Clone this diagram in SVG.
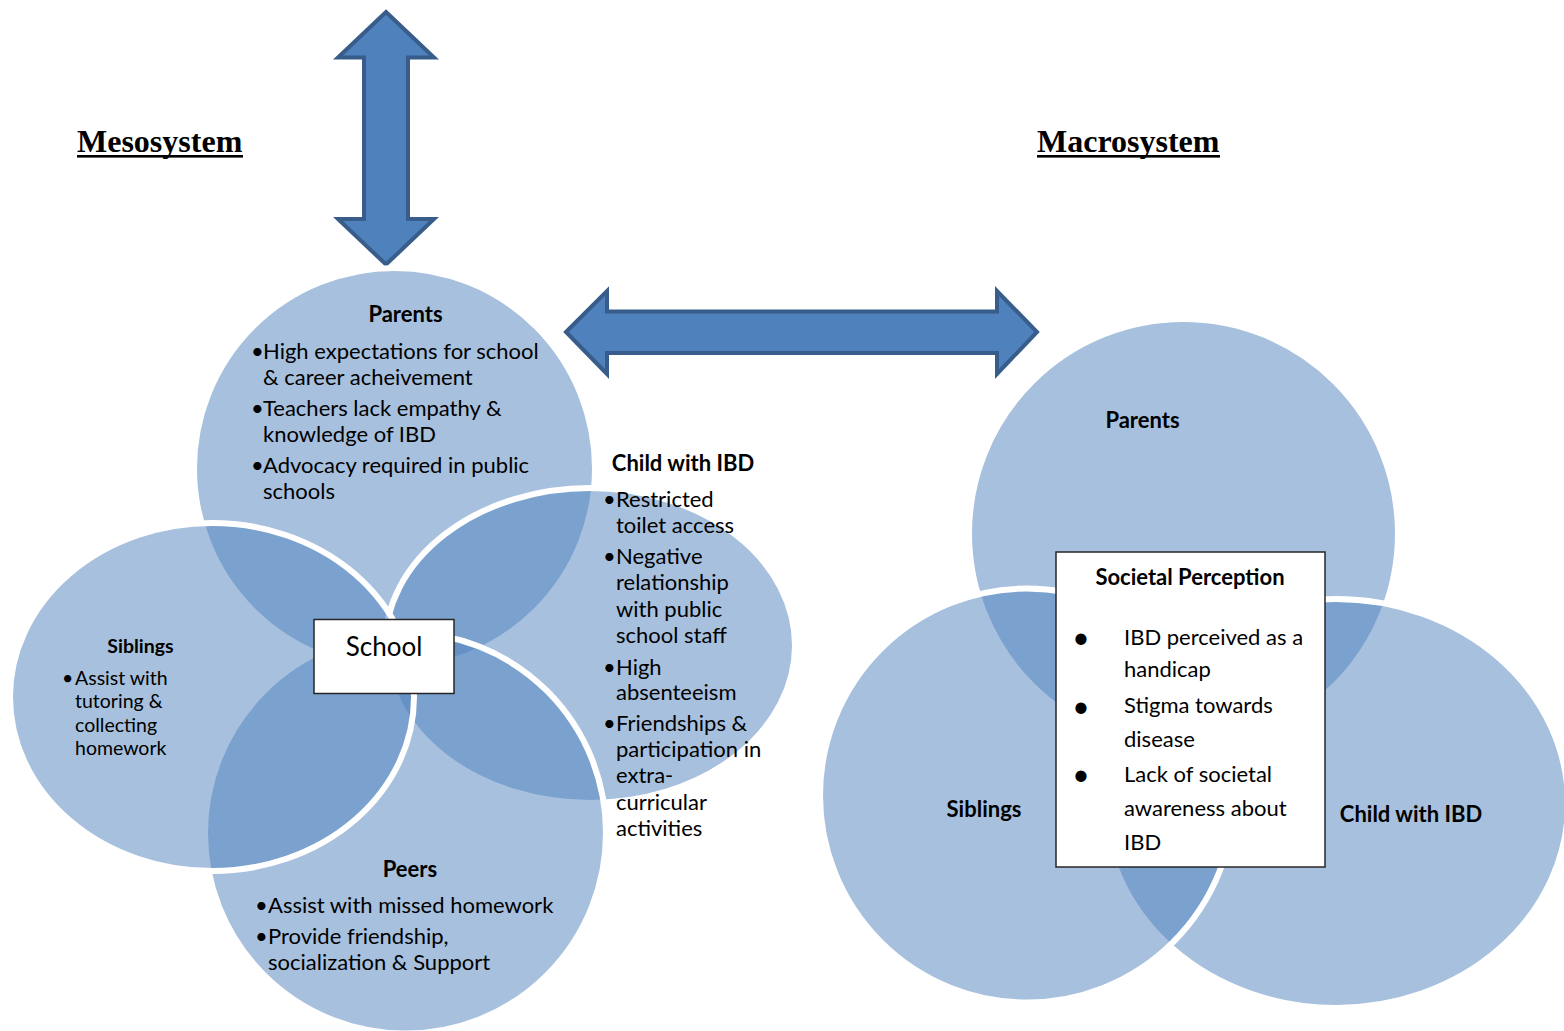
<svg xmlns="http://www.w3.org/2000/svg" width="1564" height="1031" viewBox="0 0 1564 1031">
<style>
.c{fill:#4F81BD;fill-opacity:0.5;stroke:#FFFFFF;stroke-width:6}
.arr{fill:#4F81BD;stroke:#385D8A;stroke-width:4}
.box{fill:#FFFFFF;stroke:#262626;stroke-width:1.5}
.h{font-family:"Liberation Serif","Times New Roman",serif;font-weight:bold;font-size:32px;fill:#000}
.t{font-family:Lato,"Liberation Sans",sans-serif;font-size:22px;fill:#000}
.s{font-family:Lato,"Liberation Sans",sans-serif;font-size:19.5px;fill:#000}
.b{font-family:Lato,"Liberation Sans",sans-serif;font-size:22px;font-weight:bold;fill:#000}
.bs{font-family:Lato,"Liberation Sans",sans-serif;font-size:19.5px;font-weight:bold;fill:#000}
.m{text-anchor:middle}
.sch{font-family:Lato,"Liberation Sans",sans-serif;font-size:26px;fill:#000}
.bl{font-family:Lato,"Liberation Sans",sans-serif;font-size:30px;fill:#000;text-anchor:middle}
</style>

<g id="heading-mesosystem">
<text class="h" x="77" y="152">Mesosystem</text>
<rect x="77" y="155" width="166" height="2.6" fill="#000"/>
</g>
<g id="heading-macrosystem">
<text class="h" x="1037" y="152">Macrosystem</text>
<rect x="1037" y="155" width="183" height="2.6" fill="#000"/>
</g>

<g id="connectors">
<path id="arrow-vertical" class="arr" d="M386,12 L434,57.5 L408,57.5 L408,219 L434,219 L386,264.5 L338,219 L364,219 L364,57.5 L338,57.5 Z"/>
<path id="arrow-horizontal" class="arr" d="M566,332 L607,291 L607,311.5 L997,311.5 L997,291 L1037,332 L997,374 L997,353 L607,353 L607,374 Z"/>
</g>

<g id="meso-venn">
<g id="meso-parents">
<circle class="c" cx="394.5" cy="468.5" r="200.5"/>
</g>
<g id="meso-child">
<ellipse class="c" cx="590" cy="645.5" rx="205" ry="157.5"/>
</g>
<g id="meso-peers">
<circle class="c" cx="405.5" cy="833" r="200.5"/>
</g>
<g id="meso-siblings">
<ellipse class="c" cx="212" cy="697" rx="202" ry="174"/>
</g>
</g>

<g id="meso-parents-text">
<text class="b m" x="405.5" y="322">Parents</text>
<text class="t" x="251" y="359">•</text><text class="t" x="263" y="359">High expectations for school</text>
<text class="t" x="263" y="385">&amp; career acheivement</text>
<text class="t" x="251" y="416">•</text><text class="t" x="263" y="416">Teachers lack empathy &amp;</text>
<text class="t" x="263" y="442">knowledge of IBD</text>
<text class="t" x="251" y="473">•</text><text class="t" x="263" y="473">Advocacy required in public</text>
<text class="t" x="263" y="499">schools</text>
</g>

<g id="meso-siblings-text">
<text class="bs m" x="140.5" y="653">Siblings</text>
<text class="s" x="62" y="685">•</text><text class="s" x="75" y="685">Assist with</text>
<text class="s" x="75" y="708">tutoring &amp;</text>
<text class="s" x="75" y="732">collecting</text>
<text class="s" x="75" y="755">homework</text>
</g>

<g id="meso-child-text">
<text class="b m" x="683" y="471">Child with IBD</text>
<text class="t" x="603" y="507">•</text><text class="t" x="616" y="507">Restricted</text>
<text class="t" x="616" y="533">toilet access</text>
<text class="t" x="603" y="564">•</text><text class="t" x="616" y="564">Negative</text>
<text class="t" x="616" y="590">relationship</text>
<text class="t" x="616" y="617">with public</text>
<text class="t" x="616" y="643">school staff</text>
<text class="t" x="603" y="675">•</text><text class="t" x="616" y="675">High</text>
<text class="t" x="616" y="700">absenteeism</text>
<text class="t" x="603" y="731">•</text><text class="t" x="616" y="731">Friendships &amp;</text>
<text class="t" x="616" y="757">participation in</text>
<text class="t" x="616" y="783">extra-</text>
<text class="t" x="616" y="810">curricular</text>
<text class="t" x="616" y="836">activities</text>
</g>

<g id="meso-peers-text">
<text class="b m" x="410" y="877">Peers</text>
<text class="t" x="255" y="913">•</text><text class="t" x="268" y="913">Assist with missed homework</text>
<text class="t" x="255" y="944">•</text><text class="t" x="268" y="944">Provide friendship,</text>
<text class="t" x="268" y="970">socialization &amp; Support</text>
</g>

<g id="school">
<rect class="box" x="314" y="619.5" width="140" height="74"/>
<text class="sch m" x="384" y="656">School</text>
</g>

<g id="macro-venn">
<g id="macro-parents">
<circle class="c" cx="1183.5" cy="533.5" r="214.5"/>
<text class="b m" x="1142.5" y="428">Parents</text>
</g>
<g id="macro-child">
<ellipse class="c" cx="1336" cy="803.5" rx="232" ry="204.5"/>
</g>
<g id="macro-siblings">
<circle class="c" cx="1027" cy="795.5" r="207"/>
<text class="b m" x="984" y="817">Siblings</text>
</g>
<text class="b m" x="1411" y="822">Child with IBD</text>
</g>

<g id="societal-perception">
<rect class="box" x="1056" y="552" width="269" height="315"/>
<text class="b m" x="1190" y="585">Societal Perception</text>
<text class="bl" x="1081" y="648">•</text><text class="t" x="1124" y="645">IBD perceived as a</text>
<text class="t" x="1124" y="677">handicap</text>
<text class="bl" x="1081" y="717">•</text><text class="t" x="1124" y="713">Stigma towards</text>
<text class="t" x="1124" y="747">disease</text>
<text class="bl" x="1081" y="785">•</text><text class="t" x="1124" y="782">Lack of societal</text>
<text class="t" x="1124" y="816">awareness about</text>
<text class="t" x="1124" y="850">IBD</text>
</g>
</svg>
